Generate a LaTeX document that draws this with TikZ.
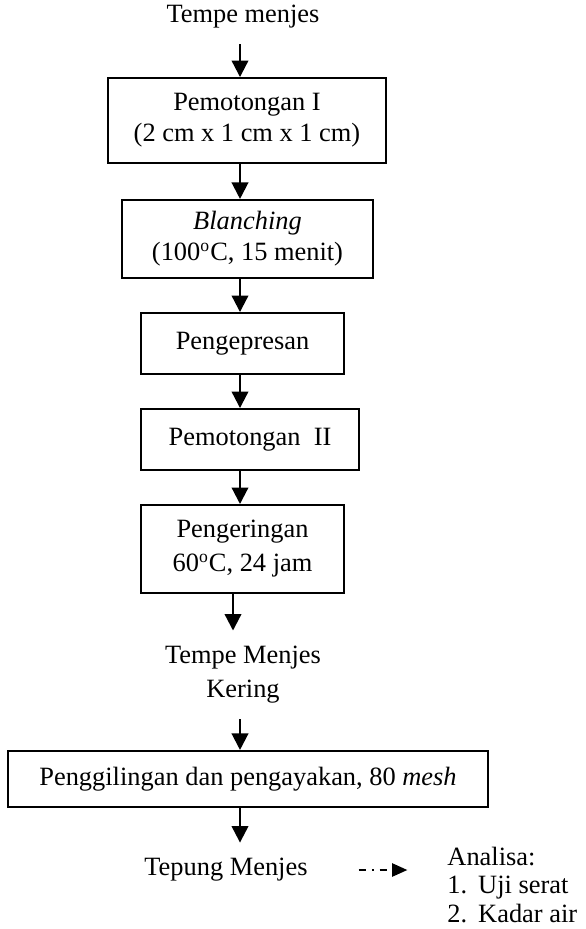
\documentclass[tikz,border=0pt]{standalone}
\usepackage{fontspec}
\setmainfont{Liberation Serif}
\usetikzlibrary{arrows.meta}

\begin{document}
\begin{tikzpicture}[x=0.4545pt, y=-0.4545pt,
        font=\fontsize{12}{14}\selectfont,
        stepbox/.style={draw, line width=0.9pt, align=center, inner sep=0pt},
        stage/.style={align=center, inner sep=7pt},
        arr/.style={line width=1pt, -{Triangle[length=7.5pt,width=7.5pt]}},
        dotarr/.style={line width=1pt, dash pattern=on 3.5pt off 2.5pt on 1pt off 2.5pt,
            -{Triangle[length=7pt,width=6pt]}, shorten <=16pt, shorten >=18pt}]
    \useasboundingbox (0,0) rectangle (586,929);
    \coordinate (spine) at (240,0);
    \coordinate (spineb) at (233,0);
    \node[stage] (start) at (243,17) {Tempe menjes};
    \node[stepbox, minimum width=126.4pt, minimum height=38.6pt] (b1) at (247,120.5) {Pemotongan I\\(2 cm x 1 cm x 1 cm)};
    \node[stepbox, minimum width=114.1pt, minimum height=35.5pt] (b2) at (247.5,239) {\textit{Blanching}\\(100\textsuperscript{o}C, 15 menit)};
    \node[stepbox, minimum width=92.3pt, minimum height=27.7pt] (b3) at (242.5,343.5) {Pengepresan};
    \node[stepbox, minimum width=99.1pt, minimum height=27.7pt] (b4) at (250,439.5) {Pemotongan\ \ II};
    \node[stepbox, minimum width=92.3pt, minimum height=40pt] (b5) at (242.5,549) {Pengeringan\\[1.5pt]60\textsuperscript{o}C, 24 jam};
    \node[stage] (dry) at (243,675) {Tempe Menjes\\[1.5pt]Kering};
    \node[stepbox, minimum width=218.2pt, minimum height=25.5pt] (b6) at (248,779) {Penggilingan dan pengayakan, 80 \textit{mesh}};
    \node[stage] (tepung) at (226,870) {Tepung Menjes};
    \node[align=left, inner sep=0pt, anchor=north west, font=\fontsize{12}{12.8}\selectfont] (analisa) at (447,847) {Analisa:\\1.\hspace{5pt}Uji serat\\2.\hspace{5pt}Kadar air};
    \draw[arr] (start.south -| spine) -- (b1.north -| spine);
    \draw[arr] (b1.south -| spine) -- (b2.north -| spine);
    \draw[arr] (b2.south -| spine) -- (b3.north -| spine);
    \draw[arr] (b3.south -| spine) -- (b4.north -| spine);
    \draw[arr] (b4.south -| spine) -- (b5.north -| spine);
    \draw[arr] (b5.south -| spineb) -- (dry.north -| spineb);
    \draw[arr] (dry.south -| spine) -- (b6.north -| spine);
    \draw[arr] (b6.south -| spine) -- (tepung.north -| spine);
    \draw[dotarr] (tepung.east) -- (tepung.east -| analisa.west);
\end{tikzpicture}
\end{document}
